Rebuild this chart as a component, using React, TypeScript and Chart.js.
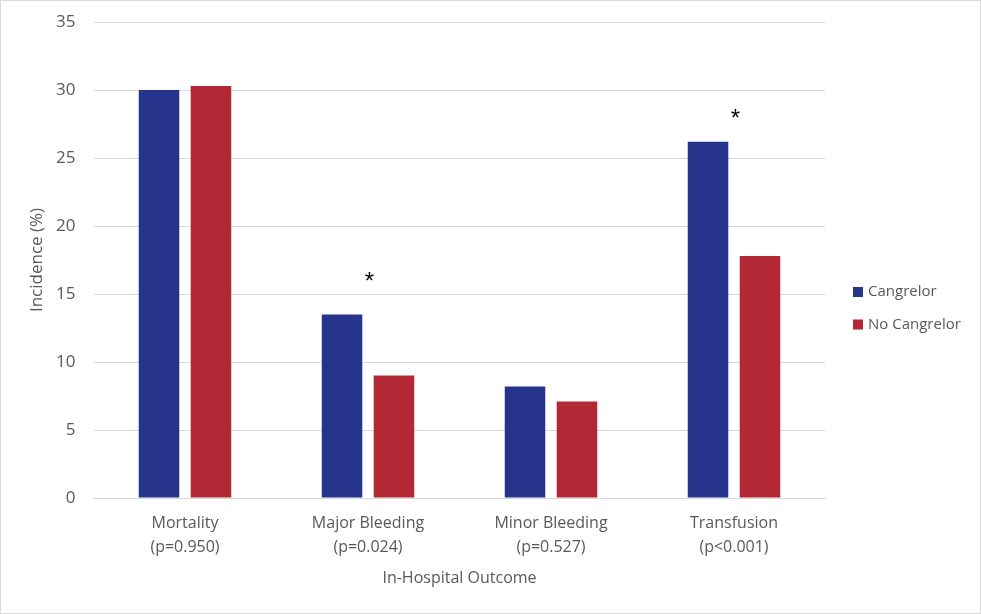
import React, { useEffect, useRef } from "react";
import { Chart, registerables } from "chart.js";

Chart.register(...registerables);

const categories = ["Mortality", "Major Bleeding", "Minor Bleeding", "Transfusion"];
const pValues = ["(p=0.950)", "(p=0.024)", "(p=0.527)", "(p<0.001)"];
const cangrelor = [30.0, 13.5, 8.2, 26.2];
const noCangrelor = [30.3, 9.0, 7.1, 17.8];
// asterisk marks (significance), value-axis position or null
const asteriskAt: (number | null)[] = [null, 16.25, null, 28.2];
const yTicks = [0, 5, 10, 15, 20, 25, 30, 35];

const BLUE = "#27348B";
const RED = "#B22834";
const TEXT = "#595959";
const GRID = "#D9D9D9";

const asteriskPlugin = {
  id: "asterisks",
  afterDatasetsDraw(chart: any) {
    const { ctx, scales } = chart;
    ctx.save();
    ctx.fillStyle = "#000000";
    ctx.font = "24px 'Liberation Sans', Arial, sans-serif";
    ctx.textAlign = "center";
    ctx.textBaseline = "middle";
    asteriskAt.forEach((v, i) => {
      if (v == null) return;
      const x = scales.x.getPixelForValue(i) + 1.5;
      const y = scales.y.getPixelForValue(v);
      ctx.fillText("*", x, y + 5);
    });
    ctx.restore();
  },
};

const legendPlugin = {
  id: "sideLegend",
  afterDraw(chart: any) {
    const { ctx, chartArea } = chart;
    ctx.save();
    ctx.font = "15px 'Open Sans', sans-serif";
    ctx.textBaseline = "middle";
    ctx.textAlign = "left";
    chart.data.datasets.forEach((ds: any, i: number) => {
      const bx = chartArea.right + 27.5;
      const cy = chartArea.top + 270 + i * 32.5;
      ctx.fillStyle = ds.backgroundColor;
      ctx.fillRect(bx, cy - 5, 10, 10);
      ctx.fillStyle = TEXT;
      ctx.fillText(ds.label, bx + 15, cy);
    });
    ctx.restore();
  },
};

const framePlugin = {
  id: "frame",
  beforeDraw(chart: any) {
    const { ctx, width, height } = chart;
    ctx.save();
    ctx.fillStyle = "#FFFFFF";
    ctx.fillRect(0, 0, width, height);
    ctx.restore();
  },
  afterDraw(chart: any) {
    const { ctx, width, height } = chart;
    ctx.save();
    ctx.strokeStyle = GRID;
    ctx.lineWidth = 1;
    ctx.strokeRect(0.5, 0.5, width - 1, height - 1);
    ctx.restore();
  },
};

export default function App() {
  const ref = useRef<HTMLCanvasElement | null>(null);

  useEffect(() => {
    if (!ref.current) return;
    const chart = new Chart(ref.current, {
      type: "bar",
      data: {
        labels: categories.map((c, i) => [c, pValues[i]]),
        datasets: [
          {
            label: "Cangrelor",
            data: cangrelor,
            backgroundColor: BLUE,
            categoryPercentage: 0.568,
            barPercentage: 0.78,
          },
          {
            label: "No Cangrelor",
            data: noCangrelor,
            backgroundColor: RED,
            categoryPercentage: 0.568,
            barPercentage: 0.78,
          },
        ],
      },
      options: {
        responsive: false,
        animation: false,
        layout: { padding: { left: 0, right: 155.5, top: 22, bottom: 0 } },
        plugins: {
          legend: { display: false },
          tooltip: { enabled: false },
        },
        scales: {
          x: {
            grid: { display: false, drawTicks: false },
            border: { display: true, color: GRID, width: 1 },
            ticks: {
              color: TEXT,
              padding: 13,
              maxRotation: 0,
              autoSkip: false,
              font: { family: "'Open Sans', sans-serif", size: 16, lineHeight: 1.5 },
            },
            title: {
              display: true,
              text: "In-Hospital Outcome",
              color: TEXT,
              font: { family: "'Open Sans', sans-serif", size: 16, lineHeight: 1.2 },
              padding: { top: 0, bottom: 26 },
            },
            afterFit(scale: any) {
              scale.height = 116;
              scale.paddingLeft = 0;
              scale.paddingRight = 0;
            },
          },
          y: {
            min: 0,
            max: 35,
            afterBuildTicks(scale: any) {
              scale.ticks = yTicks.map((v) => ({ value: v }));
            },
            grid: { color: GRID, lineWidth: 1, drawTicks: false },
            border: { display: false },
            ticks: {
              color: TEXT,
              padding: 18,
              font: { family: "'Open Sans', sans-serif", size: 17 },
            },
            title: {
              display: true,
              text: "Incidence (%)",
              color: TEXT,
              font: { family: "'Open Sans', sans-serif", size: 17, lineHeight: 1.2 },
              padding: { top: 27, bottom: 0 },
            },
            afterFit(scale: any) {
              scale.width = 93.5;
              scale.paddingTop = 0;
              scale.paddingBottom = 0;
            },
          },
        },
      },
      plugins: [framePlugin, asteriskPlugin, legendPlugin],
    });
    return () => chart.destroy();
  }, []);

  return (
    <div style={{ position: "absolute", left: 0, top: 0, width: 981, height: 614 }}>
      <canvas ref={ref} width={981} height={614} style={{ display: "block" }} />
    </div>
  );
}
